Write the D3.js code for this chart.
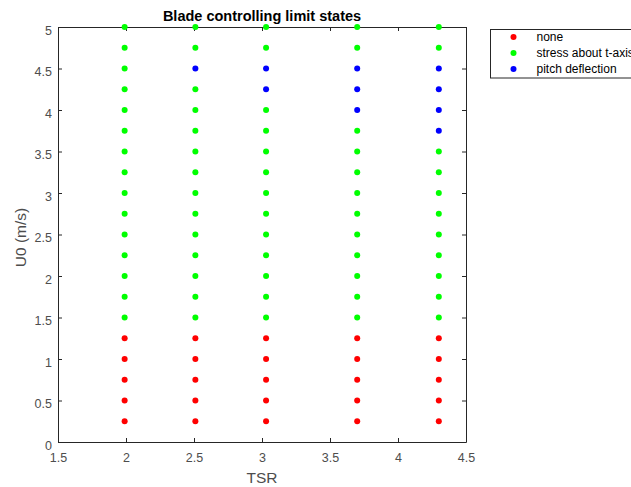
<!DOCTYPE html>
<html>
<head>
<meta charset="utf-8">
<script src="https://cdn.jsdelivr.net/npm/d3@7"></script>
<style>
  html, body { margin: 0; padding: 0; background: #fff; }
  svg { display: block; font-family: "Liberation Sans", Arial, sans-serif; }
</style>
</head>
<body>
<svg id="chart" width="631" height="487"></svg>
<script>
// Tip speed ratios tested, and inflow speeds for each
const tsrValues = [1.99, 2.51, 3.03, 3.70, 4.30];
const u0Values = [0.25, 0.5, 0.75, 1, 1.25, 1.5, 1.75, 2, 2.25, 2.5, 2.75, 3, 3.25, 3.5, 3.75, 4, 4.25, 4.5, 4.75, 5];

// Controlling limit state per TSR column (index into stateNames), bottom to top
const statesTsr1 = [0,0,0,0,0,1,1,1,1,1,1,1,1,1,1,1,1,1,1,1];
const statesTsr2 = [0,0,0,0,0,1,1,1,1,1,1,1,1,1,1,1,1,2,1,1];
const statesTsr3 = [0,0,0,0,0,1,1,1,1,1,1,1,1,1,1,1,2,2,1,1];
const statesTsr4 = [0,0,0,0,0,1,1,1,1,1,1,1,1,1,1,2,2,2,1,1];
const statesTsr5 = [0,0,0,0,0,1,1,1,1,1,1,1,1,1,2,2,2,2,1,1];

const stateNames = ["none", "stress about t-axis", "pitch deflection"];
const stateColors = ["#ff0000", "#00ff00", "#0000ff"];

const xTicks = [1.5, 2, 2.5, 3, 3.5, 4, 4.5];
const yTicks = [0, 0.5, 1, 1.5, 2, 2.5, 3, 3.5, 4, 4.5, 5];

const columns = [statesTsr1, statesTsr2, statesTsr3, statesTsr4, statesTsr5];
const points = [];
columns.forEach((col, i) => {
  col.forEach((s, j) => points.push({ tsr: tsrValues[i], u0: u0Values[j], state: s }));
});

const svg = d3.select("#chart");
const m = { left: 58, right: 466, top: 27, bottom: 442 };
const axisColor = "#262626";
const labelColor = "#4d4d4d";
const tickFont = 12.5;

const x = d3.scaleLinear().domain([1.5, 4.5]).range([m.left, m.right]);
const y = d3.scaleLinear().domain([0, 5]).range([m.bottom, m.top]);

// white plot area
svg.append("rect")
  .attr("x", m.left).attr("y", m.top)
  .attr("width", m.right - m.left).attr("height", m.bottom - m.top)
  .attr("fill", "#fff");

function styleAxis(g) {
  g.select(".domain").attr("stroke", axisColor).attr("stroke-width", 1);
  g.selectAll(".tick line").attr("stroke", axisColor);
  g.selectAll(".tick text").attr("fill", labelColor).attr("font-size", tickFont);
}

// bottom and left axes with inward ticks
svg.append("g").attr("transform", `translate(0,${m.bottom})`)
  .call(d3.axisBottom(x).tickValues(xTicks).tickFormat(d3.format("")).tickSizeInner(-4).tickSizeOuter(0).tickPadding(11))
  .call(styleAxis);
svg.append("g").attr("transform", `translate(${m.left},0)`)
  .call(d3.axisLeft(y).tickValues(yTicks).tickFormat(d3.format("")).tickSizeInner(-4).tickSizeOuter(0).tickPadding(6))
  .call(styleAxis)
  .call(g => g.selectAll(".tick text").attr("dy", "0.58em"));
// top and right box edges with ticks
svg.append("g").attr("transform", `translate(0,${m.top})`)
  .call(d3.axisTop(x).tickValues(xTicks).tickFormat("").tickSizeInner(-4).tickSizeOuter(0))
  .call(styleAxis);
svg.append("g").attr("transform", `translate(${m.right},0)`)
  .call(d3.axisRight(y).tickValues(yTicks).tickFormat("").tickSizeInner(-4).tickSizeOuter(0))
  .call(styleAxis);

// data points
svg.append("g").selectAll("circle").data(points).join("circle")
  .attr("cx", d => x(d.tsr))
  .attr("cy", d => y(d.u0))
  .attr("r", 3)
  .attr("fill", d => stateColors[d.state]);

// title and axis labels
svg.append("text")
  .attr("x", (m.left + m.right) / 2).attr("y", 20.5)
  .attr("text-anchor", "middle").attr("font-size", 14.5).attr("font-weight", "bold")
  .attr("fill", "#000")
  .text("Blade controlling limit states");
svg.append("text")
  .attr("x", (m.left + m.right) / 2).attr("y", 482.5)
  .attr("text-anchor", "middle").attr("font-size", 15.5).attr("fill", labelColor)
  .text("TSR");
svg.append("text")
  .attr("transform", `translate(25.5,${(m.top + m.bottom) / 2 + 3}) rotate(-90)`)
  .attr("text-anchor", "middle").attr("font-size", 15.5).attr("fill", labelColor)
  .text("U0 (m/s)");

// legend
const lg = svg.append("g").attr("transform", "translate(490.5,29.5)");
lg.append("rect").attr("x", 0).attr("y", 0).attr("width", 160).attr("height", 48.5)
  .attr("fill", "#fff").attr("stroke", axisColor).attr("stroke-width", 1);
stateNames.forEach((name, i) => {
  const row = lg.append("g").attr("transform", `translate(0,${7.5 + i * 16})`);
  row.append("circle").attr("cx", 23).attr("cy", 0).attr("r", 3).attr("fill", stateColors[i]);
  row.append("text").attr("x", 46).attr("y", 4.3).attr("font-size", 12).attr("fill", "#000").text(name);
});
</script>
</body>
</html>
